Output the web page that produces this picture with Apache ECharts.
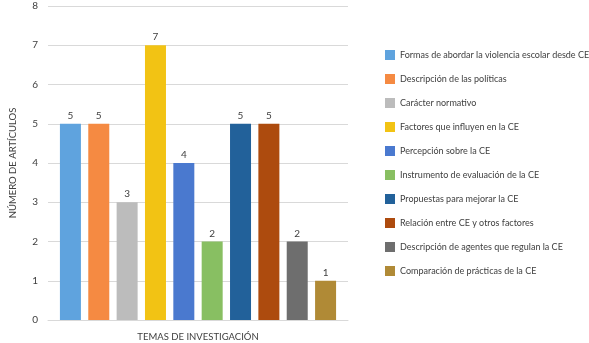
<!DOCTYPE html>
<html>
<head>
<meta charset="utf-8">
<script src="https://cdn.jsdelivr.net/npm/echarts@6/dist/echarts.min.js"></script>
<style>
  html, body { margin: 0; padding: 0; background: #fff; }
  #chart { width: 589px; height: 343px; }
</style>
</head>
<body>
<div id="chart"></div>
<script>
// categoría única del eje x
var categoria = ["TEMAS DE INVESTIGACIÓN"];
// temas (una serie por tema)
var temas = [
  "Formas de abordar la violencia escolar desde CE",
  "Descripción de las políticas",
  "Carácter normativo",
  "Factores que influyen en la CE",
  "Percepción sobre la CE",
  "Instrumento de evaluación de la CE",
  "Propuestas para mejorar la CE",
  "Relación entre CE y otros factores",
  "Descripción de agentes que regulan la CE",
  "Comparación de prácticas de la CE"
];
// número de artículos por tema
var articulos = [5, 5, 3, 7, 4, 2, 5, 5, 2, 1];
var colores = [
  "#5fa3de", "#f58a42", "#bcbcbc", "#f2c314", "#4a79cf",
  "#88bf62", "#22619a", "#ad4b0e", "#6e6e6e", "#b08a36"
];

var fuente = "Lato, 'Open Sans', sans-serif";

var chart = echarts.init(document.getElementById("chart"));

var series = temas.map(function (t, i) {
  return {
    name: t,
    type: "bar",
    data: [articulos[i]],
    barWidth: 21,
    barGap: "35%",
    itemStyle: { color: colores[i] },
    label: {
      show: true,
      position: "top",
      distance: 3,
      color: "#404040",
      fontSize: 10,
      fontFamily: fuente
    }
  };
});

var option = {
  animation: false,
  textStyle: { fontFamily: fuente },
  grid: { left: 48, right: 241, top: 6, bottom: 23 },
  legend: {
    orient: "vertical",
    left: 380,
    top: 44,
    itemWidth: 10,
    itemHeight: 10,
    itemGap: 12,
    icon: "rect",
    textStyle: { color: "#404040", fontSize: 9, lineHeight: 12, fontFamily: fuente },
    data: temas
  },
  xAxis: {
    type: "category",
    data: categoria,
    axisTick: { show: false },
    axisLine: { lineStyle: { color: "#d9d9d9" } },
    axisLabel: { color: "#404040", fontSize: 9.5, margin: 12, fontFamily: fuente }
  },
  yAxis: {
    type: "value",
    min: 0,
    max: 8,
    interval: 1,
    name: "NÚMERO DE ARTÍCULOS",
    nameLocation: "middle",
    nameGap: 30,
    nameTextStyle: { color: "#404040", fontSize: 9.5, fontFamily: fuente },
    axisLine: { show: false },
    axisTick: { show: false },
    axisLabel: { color: "#404040", fontSize: 10, margin: 10, fontFamily: fuente },
    splitLine: { lineStyle: { color: "#d9d9d9" } }
  },
  series: series
};

chart.setOption(option);
</script>
</body>
</html>
